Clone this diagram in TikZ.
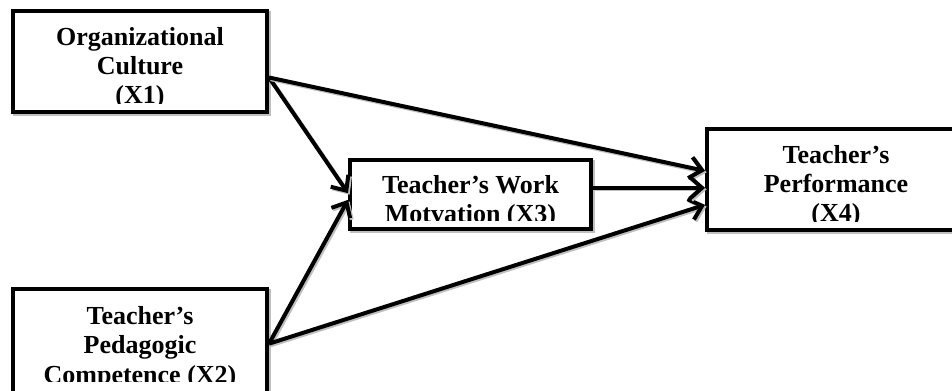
\documentclass[tikz,border=0pt]{standalone}
\usepackage{fontspec}
\setmainfont{Liberation Serif}
\usepackage{tikz}
\usetikzlibrary{
    arrows.meta,
    positioning,
}

\begin{document}
\begin{tikzpicture}[
        x=0.75pt, y=-0.75pt,
        node distance=129.75pt,
        varbox/.style={
            rectangle, draw=black, line width=3pt, fill=white,
            minimum width=#1, inner sep=0pt,
            preaction={draw=black!25, line width=3pt,
                transform canvas={shift={(1.2pt,-1.2pt)}}}
        },
        label text/.style={
            anchor=north, align=center, inner sep=0pt,
            font=\fontsize{19.5}{22}\selectfont\bfseries
        },
        arrow/.style={
            -{Straight Barb[length=9pt, width=16pt, line width=3pt]},
            line width=3pt, black,
            preaction={draw=black!25, line width=3pt,
                -{Straight Barb[length=9pt, width=16pt, line width=3pt]},
                transform canvas={shift={(1.2pt,-1.2pt)}}}
        },
    ]

    \useasboundingbox (0,0) rectangle (952,390);
    \clip (0,0) rectangle (952,390);

    % ── Boxes ──
    \node[varbox=190.5pt, minimum height=75.75pt] (x1) at (140,61.5) {};
    \node[varbox=190.5pt, minimum height=82pt, below=of x1] (x2) {};
    \node[varbox=180.75pt, minimum height=51.75pt] (x3) at (470.5,194.5) {};
    \node[varbox=193.5pt, minimum height=75.75pt] (x4) at (836,179.5) {};

    % ── Box texts (cut at the inner margin) ──
    \begin{scope}
        \clip (x1.north west) rectangle ([yshift=8.25pt]x1.south east);
        \node[label text, below=13.5pt of x1.north] (x1txt)
            {Organizational\\Culture\\(X1)};
    \end{scope}
    \begin{scope}
        \clip (x2.north west) rectangle ([yshift=14.5pt]x2.south east);
        \node[label text, below=14.5pt of x2.north] (x2txt)
            {Teacher’s\\Pedagogic\\Competence (X2)};
    \end{scope}
    \begin{scope}
        \clip (x3.north west) rectangle ([yshift=8.25pt]x3.south east);
        \node[label text, below=12.75pt of x3.north] (x3txt)
            {Teacher’s Work\\Motvation (X3)};
    \end{scope}
    \begin{scope}
        \clip (x4.north west) rectangle ([yshift=8.25pt]x4.south east);
        \node[label text, below=13.5pt of x4.north] (x4txt)
            {Teacher’s\\Performance\\(X4)};
    \end{scope}

    % ── Arrows ──
    \coordinate (x1out) at ([yshift=-12pt]x1.east);
    \draw[arrow] (x1out) -- ([yshift=1pt]x3.west);
    \draw[arrow] (x1out) -- ([yshift=6.5pt]x4.west);
    \draw[arrow] (x2.east) -- ([yshift=-4pt]x3.west);
    \draw[arrow] (x2.east) -- ([yshift=-19pt]x4.west);
    \draw[arrow] ([yshift=5pt]x3.east) -- ([yshift=5pt]x3.east -| x4.west);

\end{tikzpicture}
\end{document}
